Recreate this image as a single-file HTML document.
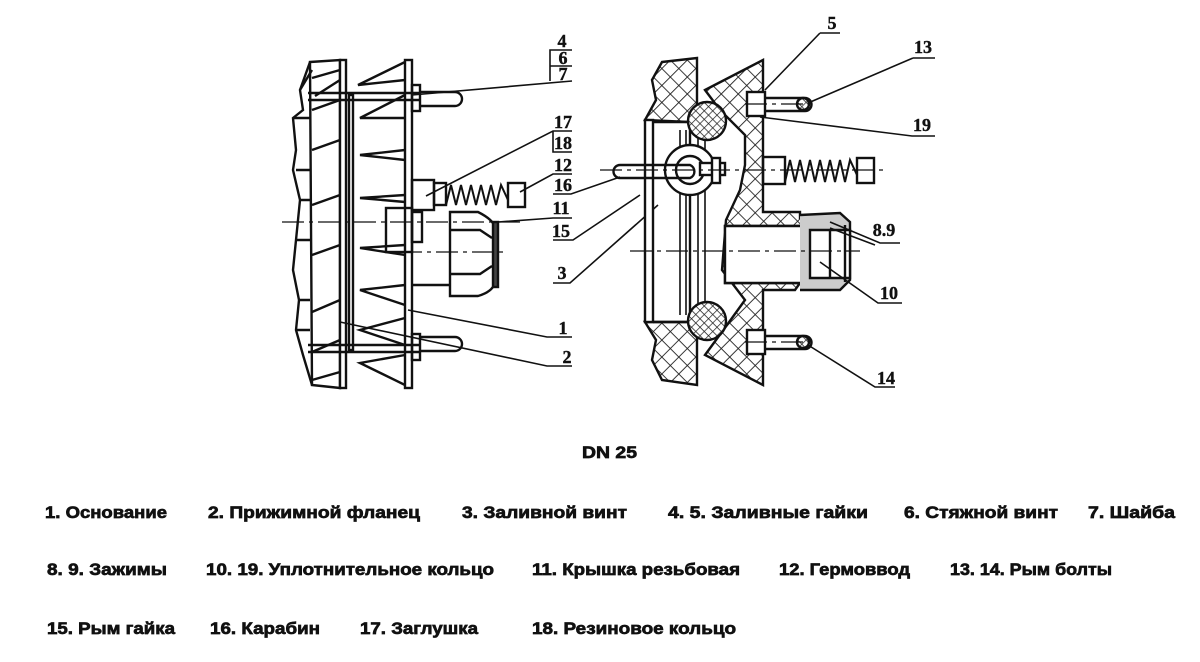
<!DOCTYPE html>
<html><head><meta charset="utf-8"><style>
html,body{margin:0;padding:0;background:#fff;width:1200px;height:662px;overflow:hidden}
svg{display:block}
.l{font-family:"Liberation Serif",serif;font-weight:bold;font-size:18px;fill:#111;stroke:#111;stroke-width:0.4}
.t{font-family:"Liberation Sans","DejaVu Sans",sans-serif;font-weight:bold;font-size:17px;fill:#111;stroke:#111;stroke-width:0.7}
</style></head><body>
<svg width="1200" height="662" viewBox="0 0 1200 662" xmlns="http://www.w3.org/2000/svg">
<defs>
<pattern id="h" width="12" height="12" patternUnits="userSpaceOnUse" patternTransform="rotate(45)">
<rect width="12" height="12" fill="#fff"/><path d="M0 0V12M0 0H12" stroke="#222" stroke-width="1.8"/></pattern>
<pattern id="hs" width="6" height="6" patternUnits="userSpaceOnUse" patternTransform="rotate(45)">
<rect width="6" height="6" fill="#fff"/><path d="M0 0V6M0 0H6" stroke="#222" stroke-width="1.4"/></pattern>
</defs>
<g stroke="#111" stroke-width="2.4" fill="none">
<!-- LEFT DRAWING -->
<path d="M310 62 L340 60 L340 388 L312 385 Z"/>
<path d="M312 70 L300 90 L303 110 L293 118 L296 150 L293 170 L300 200 L296 240 L293 270 L299 300 L296 330 L303 355 L312 385"/>
<path d="M300 90 L310 62 M293 118 L310 118 M296 170 L310 170 M300 200 L310 200 M296 240 L310 240 M299 300 L310 300 M296 330 L310 330"/>
<rect x="340" y="60" width="6" height="328" fill="#fff"/>
<rect x="349" y="95" width="4" height="255"/>
<rect x="405" y="60" width="7" height="328" fill="#fff"/>
<path d="M340 70 L312 78 M340 80 L315 96 M340 100 L312 110 M340 140 L312 150 M340 195 L312 205 M340 245 L312 255 M340 300 L312 312 M340 340 L312 352 M340 372 L312 380"/>
<path d="M405 62 L358 85 L405 80 M405 95 L360 118 L405 118 M405 150 L360 155 L405 160 M405 195 L360 198 L405 202 M405 245 L360 248 L405 255 M405 285 L360 290 L405 305 M405 318 L360 330 L405 345 M405 355 L360 363 L405 385"/>
<path d="M308 93 H420 M308 100 H420 M308 345 H420 M308 352 H420"/>
<rect x="412" y="85" width="8" height="26"/><rect x="412" y="334" width="8" height="26"/>
<path d="M420 92 H455 A6 6 0 0 1 455 106 H420"/>
<path d="M420 337 H455 A6 6 0 0 1 455 351 H420"/>
<rect x="412" y="180" width="22" height="30"/>
<rect x="434" y="183" width="12" height="22"/>
<path d="M446 205 L451 185 L456 205 L461 185 L466 205 L471 185 L476 205 L481 185 L486 205 L491 185 L496 205 L501 185 L508 200" stroke-width="2"/>
<rect x="508" y="183" width="17" height="24"/>
<rect x="386" y="208" width="26" height="44"/>
<rect x="412" y="212" width="10" height="30"/>
<path d="M412 285 H450"/>
<path d="M450 212 H478 Q494 220 495 228 V283 Q492 292 478 296 H450 Z"/>
<path d="M450 230 H480 L492 238 M450 274 H480 L492 266"/>
<rect x="493" y="222" width="5" height="65" fill="#444"/>
<path d="M282 222 H520 M400 252 H505" stroke-width="1.3" stroke-dasharray="22 5 4 5"/>
<path d="M412 95 L572 81 M550 81 V50 H572 M550 66 H572" stroke-width="1.6"/>
<path d="M426 196 L553 131 H572 M553 131 V152 H572" stroke-width="1.6"/>
<path d="M520 192 L553 174 H572 M553 194 H571 L620 177" stroke-width="1.6"/>
<path d="M498 222 L553 218 H572 M553 240 H573 L640 195" stroke-width="1.6"/>
<path d="M553 283 H570 L658 205" stroke-width="1.6"/>
<path d="M408 310 L547 337 H572" stroke-width="1.6"/>
<path d="M340 322 L547 366 H572" stroke-width="1.6"/>
<!-- RIGHT DRAWING -->
<path d="M662 62 L697 58 V117 L690 125 V122 L645 120 L656 100 L652 80 Z" fill="url(#h)"/>
<path d="M645 322 L690 322 L697 330 V385 L662 380 L652 360 L656 340 Z" fill="url(#h)"/>
<rect x="645" y="120" width="8" height="202" fill="#fff"/>
<path d="M653 122 H690 V322 H653" />
<path d="M680 130 V315 M686 130 V315 M698 130 V315 M705 130 V315" stroke-width="1.6"/>
<path d="M705 90 L763 60 V212 H800 V218 L830 220 V226 H725 V283 H800 L795 290 H763 V385 L705 355 L727 325 L745 300 L722 270 L726 220 L740 190 L745 165 L745 135 L720 110 Z" fill="url(#h)"/>
<path d="M725 226 H830 V283 H725 Z" fill="#fff"/>
<circle cx="707" cy="121" r="19" fill="url(#hs)"/>
<circle cx="707" cy="321" r="19" fill="url(#hs)"/>
<circle cx="690" cy="170" r="25" fill="#fff"/><circle cx="690" cy="170" r="14"/>
<path d="M620 165 H690 A7 7 0 0 1 690 178 H620 A6 6 0 0 1 620 165"/>
<rect x="700" y="163" width="25" height="12" fill="#fff"/><rect x="712" y="158" width="8" height="25" fill="#fff"/>
<rect x="747" y="92" width="18" height="24" fill="#fff"/>
<path d="M765 98 H805 A6 6 0 0 1 805 111 H765"/>
<circle cx="803" cy="104" r="6" fill="url(#hs)"/>
<rect x="747" y="330" width="18" height="24" fill="#fff"/>
<path d="M765 336 H805 A6 6 0 0 1 805 349 H765"/>
<circle cx="803" cy="342" r="6" fill="url(#hs)"/>
<rect x="763" y="157" width="22" height="27"/>
<path d="M785 182 L790 160 L795 182 L800 160 L805 182 L810 160 L815 182 L820 160 L825 182 L830 160 L835 182 L840 160 L845 182 L850 160 L857 175" stroke-width="2"/>
<rect x="857" y="158" width="17" height="25"/>
<path d="M800 215 L840 213 L850 222 V280 L840 290 H800" fill="#ccc"/>
<path d="M810 230 H850 V278 H810 Z" fill="#fff"/>
<path d="M830 230 V278 M845 225 V282"/>
<path d="M600 170 H885 M630 251 H860 M745 104 H815 M745 342 H815" stroke-width="1.3" stroke-dasharray="22 5 4 5"/>
<path d="M820 33 H840 M820 33 L765 90" stroke-width="1.6"/>
<path d="M913 58 H935 M913 58 L808 103" stroke-width="1.6"/>
<path d="M760 117 L912 136 H935" stroke-width="1.6"/>
<path d="M830 222 L880 243 H900 M830 228 L875 245" stroke-width="1.6"/>
<path d="M820 262 L878 303 H902" stroke-width="1.6"/>
<path d="M808 345 L875 387 H895" stroke-width="1.6"/>
</g>
<g class="l" text-anchor="middle">
<text x="562" y="47">4</text><text x="563" y="64">6</text><text x="563" y="80">7</text>
<text x="563" y="128">17</text><text x="563" y="149">18</text>
<text x="563" y="171">12</text><text x="563" y="191">16</text>
<text x="561" y="214">11</text><text x="561" y="237">15</text>
<text x="562" y="279">3</text><text x="563" y="334">1</text><text x="567" y="363">2</text>
<text x="832" y="29">5</text><text x="923" y="53">13</text><text x="922" y="131">19</text>
<text x="884" y="236">8.9</text><text x="889" y="299">10</text><text x="886" y="384">14</text>
</g>
<g class="t">
<text x="582" y="458" textLength="55" lengthAdjust="spacingAndGlyphs">DN 25</text>
<text x="45" y="518" textLength="122" lengthAdjust="spacingAndGlyphs">1. Основание</text>
<text x="208" y="518" textLength="212" lengthAdjust="spacingAndGlyphs">2. Прижимной фланец</text>
<text x="462" y="518" textLength="165" lengthAdjust="spacingAndGlyphs">3. Заливной винт</text>
<text x="668" y="518" textLength="200" lengthAdjust="spacingAndGlyphs">4. 5. Заливные гайки</text>
<text x="904" y="518" textLength="154" lengthAdjust="spacingAndGlyphs">6. Стяжной винт</text>
<text x="1088" y="518" textLength="87" lengthAdjust="spacingAndGlyphs">7. Шайба</text>
<text x="47" y="575" textLength="120" lengthAdjust="spacingAndGlyphs">8. 9. Зажимы</text>
<text x="206" y="575" textLength="288" lengthAdjust="spacingAndGlyphs">10. 19. Уплотнительное кольцо</text>
<text x="532" y="575" textLength="208" lengthAdjust="spacingAndGlyphs">11. Крышка резьбовая</text>
<text x="779" y="575" textLength="131" lengthAdjust="spacingAndGlyphs">12. Гермоввод</text>
<text x="950" y="575" textLength="162" lengthAdjust="spacingAndGlyphs">13. 14. Рым болты</text>
<text x="47" y="634" textLength="128" lengthAdjust="spacingAndGlyphs">15. Рым гайка</text>
<text x="210" y="634" textLength="110" lengthAdjust="spacingAndGlyphs">16. Карабин</text>
<text x="360" y="634" textLength="118" lengthAdjust="spacingAndGlyphs">17. Заглушка</text>
<text x="532" y="634" textLength="204" lengthAdjust="spacingAndGlyphs">18. Резиновое кольцо</text>
</g>
</svg>
</body></html>
